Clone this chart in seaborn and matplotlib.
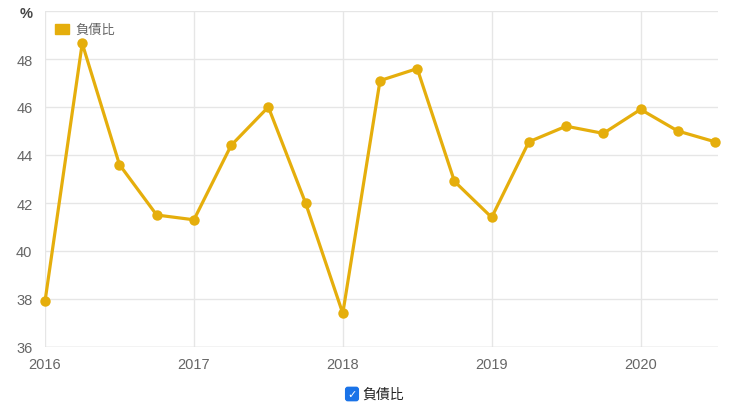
import numpy as np
import pandas as pd
import seaborn as sns
import matplotlib.pyplot as plt
from matplotlib.patches import Rectangle

# quarterly debt ratio (%)
quarters = np.arange(2016, 2020.51, 0.25)
debt_ratio = [37.9, 48.65, 43.6, 41.5, 41.3, 44.4, 46.0, 42.0, 37.4, 47.1,
              47.6, 42.9, 41.4, 44.55, 45.2, 44.9, 45.9, 45.0, 44.55]
series_name = '負債比'
year_ticks = [2016, 2017, 2018, 2019, 2020]
y_ticks = [36, 38, 40, 42, 44, 46, 48, 50]
y_labels = ['36', '38', '40', '42', '44', '46', '48', '%']

df = pd.DataFrame({'q': quarters, 'v': debt_ratio})

sns.set_style('white')
plt.rcParams['font.family'] = ['Liberation Sans', 'Noto Sans CJK TC']
col = '#E5AE0C'
grey = '#666666'

fig = plt.figure(figsize=(7.4, 4.06), dpi=100)
ax = fig.add_axes([45 / 740, 1 - 348 / 406, 673 / 740, 336 / 406])
sns.lineplot(data=df, x='q', y='v', ax=ax, color=col, lw=2.3,
             marker='o', markersize=7.5, markeredgewidth=0, zorder=3, clip_on=False)

ax.set_xlim(2016, 2020.52)
ax.set_ylim(36, 50)
ax.set_xticks(year_ticks)
ax.set_xticklabels([str(y) for y in year_ticks])
ax.set_yticks(y_ticks)
ax.set_yticklabels(y_labels)
ax.grid(True, color='#e6e6e6', lw=1)
ax.tick_params(axis='y', length=0, labelsize=10.5, labelcolor=grey, pad=9)
ax.tick_params(axis='x', length=0, labelsize=10.5, labelcolor=grey, pad=7)
for lab in ax.get_yticklabels():
    if lab.get_text() == '%':
        lab.set_fontweight('bold')
        lab.set_color('#444444')
for s in ax.spines.values():
    s.set_visible(False)
ax.axhline(36, color='#d9d9d9', lw=1)
ax.set_xlabel('')
ax.set_ylabel('')

# top-left legend
fig.patches.append(Rectangle((55 / 740, 1 - 35 / 406), 14 / 740, 10 / 406,
                             transform=fig.transFigure, color=col))
fig.text(75 / 740, 1 - 30 / 406, series_name, color=grey, fontsize=9.5, va='center',
         family=['Noto Sans CJK TC'])

# bottom checkbox legend
fig.text(352 / 740, 1 - 395 / 406, '✓', color='white', fontsize=8, fontweight='bold',
         ha='center', va='center', family=['DejaVu Sans'],
         bbox=dict(boxstyle='round,pad=0.15,rounding_size=0.2', fc='#1a73e8', ec='#1a73e8'))
fig.text(362 / 740, 1 - 395 / 406, series_name, color='#222222', fontsize=10, va='center',
         family=['Noto Sans CJK TC'])

fig.savefig('out.png', dpi=100)
